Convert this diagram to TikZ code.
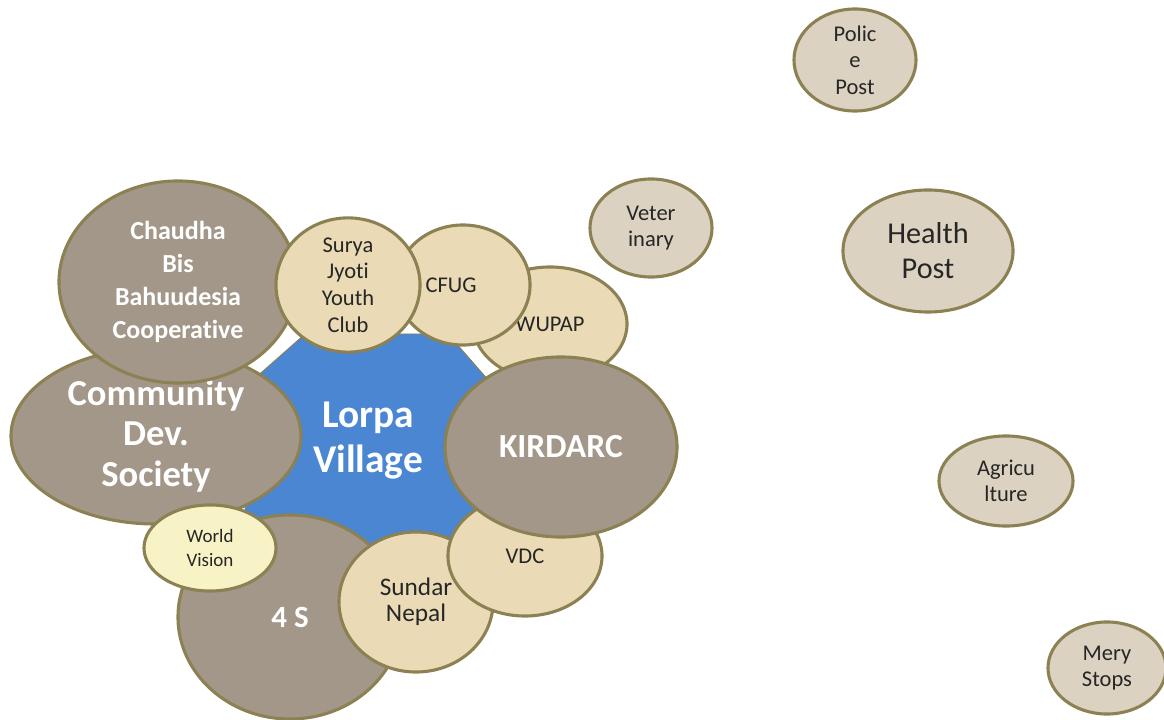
\documentclass[tikz,border=0pt]{standalone}
\usepackage{fontspec}
\setmainfont{Carlito}[Ligatures=NoCommon]
\usetikzlibrary{shapes.geometric}

\definecolor{rim}{HTML}{8C8152}
\definecolor{gravel}{HTML}{A39789}
\definecolor{papyrus}{HTML}{EADBB6}
\definecolor{burlap}{HTML}{DCD2C1}
\definecolor{pale}{HTML}{F8F3C6}
\definecolor{lake}{HTML}{4A86D1}
\definecolor{ink}{HTML}{262626}

\begin{document}
\begin{tikzpicture}[x=0.025cm, y=-0.025cm,
        org/.style={ellipse, draw=rim, line width=2.2pt, inner sep=0pt, align=center},
        radii/.style 2 args={minimum width=#1*0.05cm, minimum height=#2*0.05cm},
        gravelorg/.style={org, fill=gravel, text=white},
        papyrusorg/.style={org, fill=papyrus, text=ink, font=\fontsize{16}{19}\selectfont},
        burlaporg/.style={org, fill=burlap, text=ink, font=\fontsize{16}{19}\selectfont}]
        \useasboundingbox (0, 0) rectangle (1164, 720);

        % the village in the middle
        \fill[lake, draw=rim, line width=0.6pt] (262, 372) -- (305, 334) -- (448, 334) -- (490, 382)
            -- (492, 505) -- (470, 545) -- (265, 545) -- (245, 510) -- (245, 385) -- cycle;

        % ring of organisations, back to front
        \node[gravelorg, radii={112}{102}, font=\bfseries\fontsize{22}{26}\selectfont] (fours) at (290, 617) {4 S};
        \node[gravelorg, radii={145}{88}, font=\bfseries\fontsize{26}{28.5}\selectfont] (cds) at (156, 436) {Community\\Dev.\\Society};
        \node[gravelorg, radii={119}{101}, font=\bfseries\fontsize{18.5}{23.5}\selectfont] (chaudha) at (178, 282) {Chaudha\\Bis\\Bahuudesia\\Cooperative};
        \node[org, fill=pale, text=ink, radii={66}{43}, font=\fontsize{13.5}{16.5}\selectfont] (worldvision) at (210, 548) {World\\Vision};
        \node[papyrusorg, radii={77}{57}] (wupap) at (550, 324) {WUPAP};
        \node[papyrusorg, radii={67}{60}] (cfug) at (463, 285) {CFUG\hspace{17pt}};
        \node[papyrusorg, radii={72}{60}] (surya) at (348, 285) {Surya\\Jyoti\\Youth\\Club};
        \node[papyrusorg, radii={77}{70}, font=\fontsize{18}{18.5}\selectfont] (sundar) at (416, 602) {Sundar\\Nepal};
        \node[papyrusorg, radii={77}{60}] (vdc) at (525, 556) {VDC};
        \node[gravelorg, radii={116}{90}, font=\bfseries\fontsize{24}{28}\selectfont] (kirdarc) at (561, 447) {KIRDARC};
        \node[text=white, font=\bfseries\fontsize{28}{32}\selectfont, align=center] (lorpa) at (368, 441) {Lorpa\\Village};

        % offices outside the ring
        \node[burlaporg, radii={61}{49}, font=\fontsize{16}{18}\selectfont] (vet) at (651, 228) {Veter\\inary};
        \node[burlaporg, radii={61}{51}] (police) at (855, 60) {Polic\\e\\Post};
        \node[burlaporg, radii={85}{61}, font=\fontsize{21.5}{25}\selectfont] (health) at (928, 251) {Health\\Post};
        \node[burlaporg, radii={67}{45}, font=\fontsize{16}{18.5}\selectfont] (agri) at (1006, 481) {Agricu\\lture};
        \node[burlaporg, radii={59}{46}] (mery) at (1107, 668) {Mery\\Stops};
    \end{tikzpicture}
\end{document}
